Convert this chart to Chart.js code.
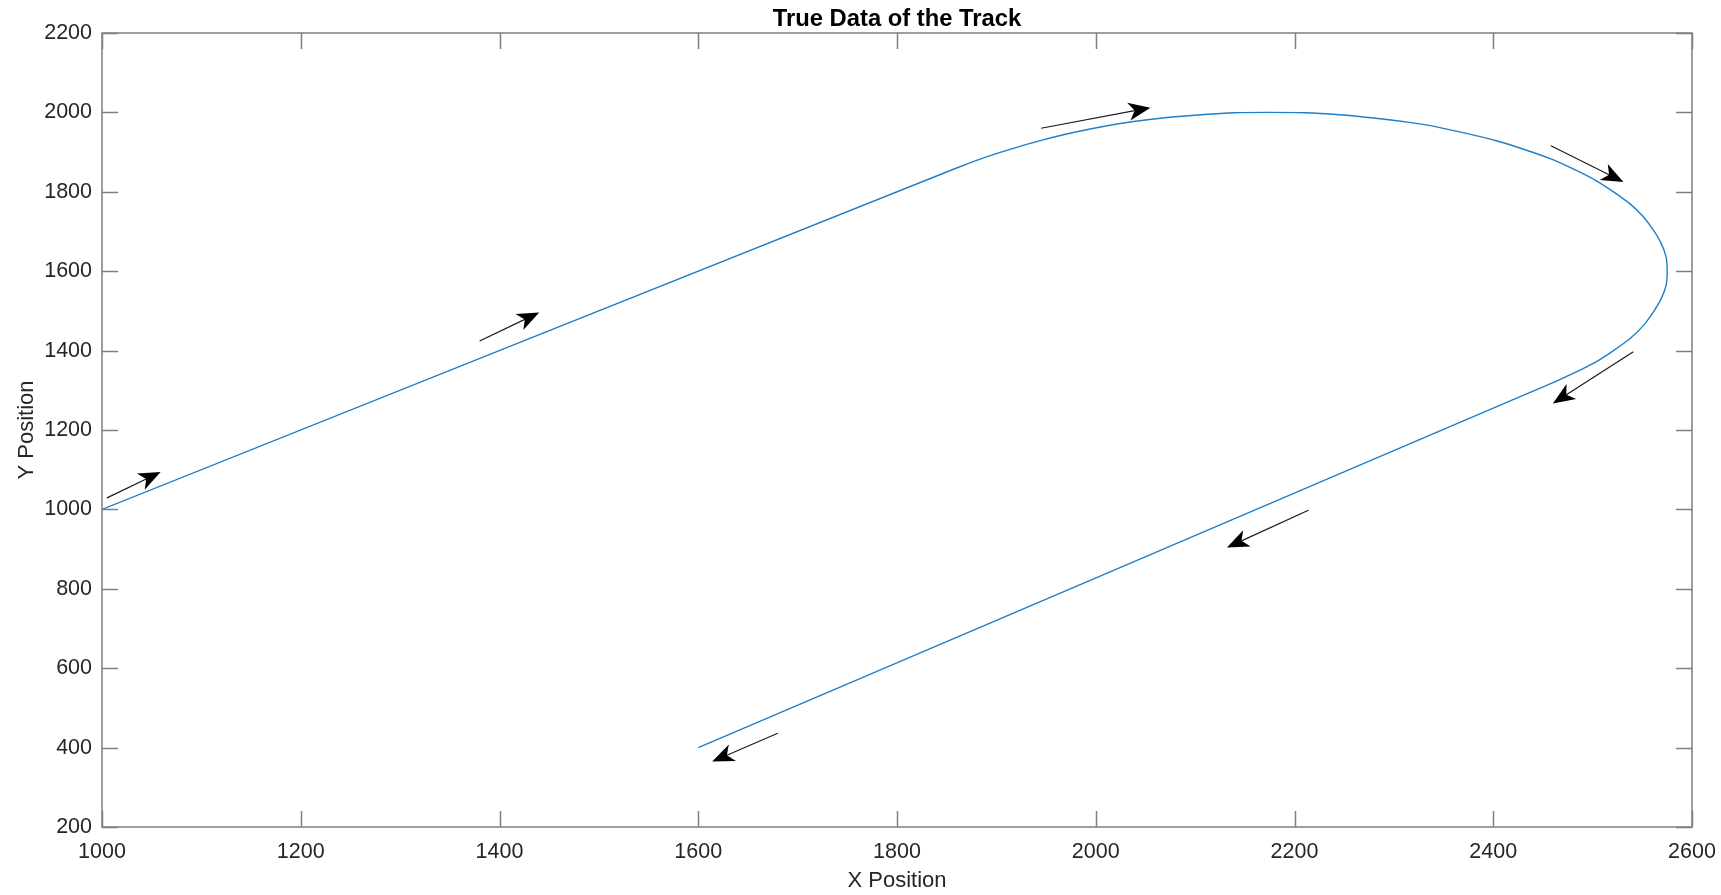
<!DOCTYPE html>
<html>
<head>
<meta charset="utf-8">
<title>True Data of the Track</title>
<script src="https://cdn.jsdelivr.net/npm/chart.js@4/dist/chart.umd.min.js"></script>
<style>
  html, body { margin: 0; padding: 0; background: #ffffff; }
  #wrap { width: 1721px; height: 895px; }
  canvas { display: block; }
</style>
</head>
<body>
<div id="wrap"><canvas id="c" width="1721" height="895"></canvas></div>
<script>
// Track positions (x, y): straight leg, right-hand turn, straight leg back.
const trackX = [1000, 1860, 1890, 1918, 1946, 1975, 2006, 2038, 2072, 2106, 2140, 2175, 2210, 2245, 2279, 2312, 2344, 2375, 2404, 2432, 2458, 2481, 2503, 2521, 2538, 2551, 2561, 2569, 2574, 2575, 2574, 2569, 2561, 2551, 2538, 2521, 2503, 2481, 2467, 2430, 1600];
const trackY = [1000, 1860, 1888, 1910, 1930, 1948, 1964, 1977, 1987, 1994, 1999, 2000, 1999, 1994, 1986, 1976, 1963, 1946, 1928, 1906, 1883, 1857, 1829, 1800, 1769, 1737, 1704, 1670, 1635, 1600, 1565, 1531, 1497, 1463, 1431, 1400, 1371, 1343, 1327, 1287, 400];

// Direction-of-travel arrows: tail point and tip point.
const arrowTailX = [1005, 1380, 1945, 2458, 2541, 2214, 1680];
const arrowTailY = [1029, 1424, 1960, 1916, 1397, 998, 436];
const arrowHeadX = [1059, 1440, 2055, 2531, 2460, 2132, 1614];
const arrowHeadY = [1094, 1496, 2012, 1825, 1267, 904, 365];

// Axis ticks
const xTickValues = [1000, 1200, 1400, 1600, 1800, 2000, 2200, 2400, 2600];
const yTickValues = [200, 400, 600, 800, 1000, 1200, 1400, 1600, 1800, 2000, 2200];

const chartTitle = 'True Data of the Track';
const xAxisTitle = 'X Position';
const yAxisTitle = 'Y Position';

const FONT = "'Liberation Sans', Arial, Helvetica, sans-serif";
const AXIS_COLOR = '#7f7f7f';
const TEXT_COLOR = '#262626';
const TICK_LEN = 16;

const points = trackX.map((x, i) => ({ x: x, y: trackY[i] }));

// Direction arrows, axes box, inward ticks on all four sides, and titles.
const frame = {
  id: 'frame',
  afterDatasetsDraw(chart) {
    const ctx = chart.ctx;
    const xs = chart.scales.x, ys = chart.scales.y;
    ctx.save();
    for (let i = 0; i < arrowTailX.length; i++) {
      const x0 = xs.getPixelForValue(arrowTailX[i]);
      const y0 = ys.getPixelForValue(arrowTailY[i]);
      const x1 = xs.getPixelForValue(arrowHeadX[i]);
      const y1 = ys.getPixelForValue(arrowHeadY[i]);
      const ang = Math.atan2(y1 - y0, x1 - x0);
      const L = 22, hw = 9, notch = 16;
      const c = Math.cos(ang), s = Math.sin(ang);
      const bx = x1 - L * c, by = y1 - L * s;
      const nx = x1 - notch * c, ny = y1 - notch * s;
      ctx.strokeStyle = '#1a1a1a';
      ctx.lineWidth = 1.2;
      ctx.beginPath();
      ctx.moveTo(x0, y0);
      ctx.lineTo(nx, ny);
      ctx.stroke();
      ctx.fillStyle = '#000000';
      ctx.beginPath();
      ctx.moveTo(x1, y1);
      ctx.lineTo(bx - hw * s, by + hw * c);
      ctx.lineTo(nx, ny);
      ctx.lineTo(bx + hw * s, by - hw * c);
      ctx.closePath();
      ctx.fill();
    }
    ctx.restore();
  },
  afterDraw(chart) {
    const ctx = chart.ctx;
    const a = chart.chartArea;
    const xs = chart.scales.x, ys = chart.scales.y;
    ctx.save();
    ctx.strokeStyle = AXIS_COLOR;
    ctx.lineWidth = 1.5;
    ctx.beginPath();
    ctx.rect(a.left, a.top, a.right - a.left, a.bottom - a.top);
    ctx.stroke();
    ctx.beginPath();
    xs.ticks.forEach(t => {
      const px = Math.round(xs.getPixelForValue(t.value)) + 0.5;
      ctx.moveTo(px, a.bottom); ctx.lineTo(px, a.bottom - TICK_LEN);
      ctx.moveTo(px, a.top); ctx.lineTo(px, a.top + TICK_LEN);
    });
    ys.ticks.forEach(t => {
      const py = Math.round(ys.getPixelForValue(t.value)) + 0.5;
      ctx.moveTo(a.left, py); ctx.lineTo(a.left + TICK_LEN, py);
      ctx.moveTo(a.right, py); ctx.lineTo(a.right - TICK_LEN, py);
    });
    ctx.stroke();

    const cx = (a.left + a.right) / 2;
    ctx.fillStyle = '#000000';
    ctx.font = 'bold 23.8px ' + FONT;
    ctx.textAlign = 'center';
    ctx.textBaseline = 'alphabetic';
    ctx.fillText(chartTitle, cx, 26);

    ctx.fillStyle = TEXT_COLOR;
    ctx.font = '22px ' + FONT;
    ctx.fillText(xAxisTitle, cx, 887);

    ctx.translate(33, (a.top + a.bottom) / 2);
    ctx.rotate(-Math.PI / 2);
    ctx.fillText(yAxisTitle, 0, 0);
    ctx.restore();
  }
};

new Chart(document.getElementById('c'), {
  type: 'scatter',
  data: {
    datasets: [{
      label: 'True track',
      data: points,
      showLine: true,
      borderColor: '#1f7fc8',
      borderWidth: 1.4,
      pointRadius: 0,
      pointHoverRadius: 0,
      fill: false,
      tension: 0.25
    }]
  },
  options: {
    responsive: false,
    animation: false,
    devicePixelRatio: 1,
    layout: { padding: { left: 0, right: 29, top: 33, bottom: 0 } },
    plugins: {
      legend: { display: false },
      tooltip: { enabled: false },
      title: { display: false }
    },
    scales: {
      x: {
        type: 'linear',
        position: 'bottom',
        min: 1000,
        max: 2600,
        grid: { display: false, drawTicks: false },
        border: { display: false },
        afterBuildTicks(scale) { scale.ticks = xTickValues.map(v => ({ value: v })); },
        afterFit(scale) {
          scale.height = 68;
          scale.paddingLeft = 0;
          scale.paddingRight = 0;
        },
        ticks: {
          autoSkip: false,
          maxRotation: 0,
          padding: 12,
          color: TEXT_COLOR,
          font: { family: FONT, size: 21.5 },
          callback: v => String(v)
        }
      },
      y: {
        type: 'linear',
        position: 'left',
        min: 200,
        max: 2200,
        grid: { display: false, drawTicks: false },
        border: { display: false },
        afterBuildTicks(scale) { scale.ticks = yTickValues.map(v => ({ value: v })); },
        afterFit(scale) {
          scale.width = 102;
          scale.paddingTop = 0;
          scale.paddingBottom = 0;
        },
        ticks: {
          autoSkip: false,
          padding: 10,
          color: TEXT_COLOR,
          font: { family: FONT, size: 21.5 },
          callback: v => String(v)
        }
      }
    }
  },
  plugins: [frame]
});
</script>
</body>
</html>
